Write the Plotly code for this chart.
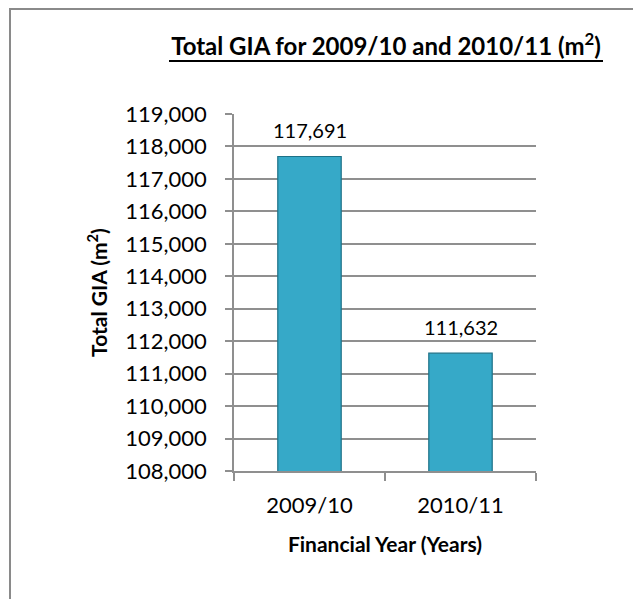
import plotly.graph_objects as go

categories = ["2009/10", "2010/11"]
values = [117691, 111632]
value_labels = ["117,691", "111,632"]
y_tick_values = list(range(108000, 120000, 1000))
y_tick_labels = [f"{v:,}" for v in y_tick_values]

W, H = 633, 599
L, R, T, B = 234, 97, 114, 128
PW, PH = W - L - R, H - T - B

def px_to_paper_x(px):
    return (px - L) / PW

def px_to_paper_y(py):
    return (H - B - py) / PH

FONT = "Lato"
GRID = "#8f8f8f"
FRAME = "#8a8a8a"

fig = go.Figure()
fig.add_trace(go.Bar(
    x=categories, y=values,
    marker=dict(color="#36A9C8", line=dict(color="#1E7187", width=1.2)),
    width=0.42,
    hoverinfo="skip",
))

for c, v, t in zip(categories, values, value_labels):
    fig.add_annotation(x=c, y=v, text=t, showarrow=False, yanchor="bottom",
                       yshift=12, font=dict(family=FONT, size=20, color="#000"))

# outer frame: only left and top edges are visible in the picture
fig.add_shape(type="line", xref="paper", yref="paper",
              x0=px_to_paper_x(10), x1=px_to_paper_x(W),
              y0=px_to_paper_y(9), y1=px_to_paper_y(9),
              line=dict(color=FRAME, width=2), layer="below")
fig.add_shape(type="line", xref="paper", yref="paper",
              x0=px_to_paper_x(10), x1=px_to_paper_x(10),
              y0=px_to_paper_y(8), y1=px_to_paper_y(H),
              line=dict(color=FRAME, width=2), layer="below")

# title underline
fig.add_shape(type="line", xref="paper", yref="paper",
              x0=px_to_paper_x(169), x1=px_to_paper_x(603),
              y0=px_to_paper_y(61), y1=px_to_paper_y(61),
              line=dict(color="#000", width=2))

fig.update_layout(
    width=W, height=H,
    margin=dict(l=L, r=R, t=T, b=B, autoexpand=False),
    paper_bgcolor="white", plot_bgcolor="white",
    showlegend=False,
    bargap=0.58,
    font=dict(family=FONT, color="#000"),
    title=dict(
        text="<b>Total GIA for 2009/10 and 2010/11 (m<sup>2</sup>)</b>",
        x=px_to_paper_x(386), xref="paper", xanchor="center",
        y=1 - 47 / H, yref="container", yanchor="middle",
        font=dict(family=FONT, size=24, color="#000"),
    ),
    xaxis=dict(
        type="category", tickson="boundaries", ticks="outside", ticklen=8,
        tickcolor=GRID, tickwidth=1.5,
        showline=True, linecolor=GRID, linewidth=1.5,
        showgrid=False,
        ticklabelstandoff=14,
        tickfont=dict(family=FONT, size=22, color="#000"),
        title=dict(text="<b>Financial Year (Years)</b>", standoff=20,
                   font=dict(family=FONT, size=21, color="#000")),
        automargin=False,
    ),
    yaxis=dict(
        range=[108000, 119000],
        tickvals=y_tick_values, ticktext=y_tick_labels,
        ticks="outside", ticklen=7, tickcolor=GRID, tickwidth=1.5,
        showline=True, linecolor=GRID, linewidth=1.5,
        showgrid=True, gridcolor=GRID, gridwidth=1.5,
        zeroline=False,
        ticklabelstandoff=14,
        tickfont=dict(family=FONT, size=22, color="#000"),
        title=dict(text="<b>Total GIA (m<sup>2</sup>)</b>", standoff=12,
                   font=dict(family=FONT, size=21, color="#000")),
        automargin=False,
    ),
)

fig.write_html("out.html", config={"displayModeBar": False})
